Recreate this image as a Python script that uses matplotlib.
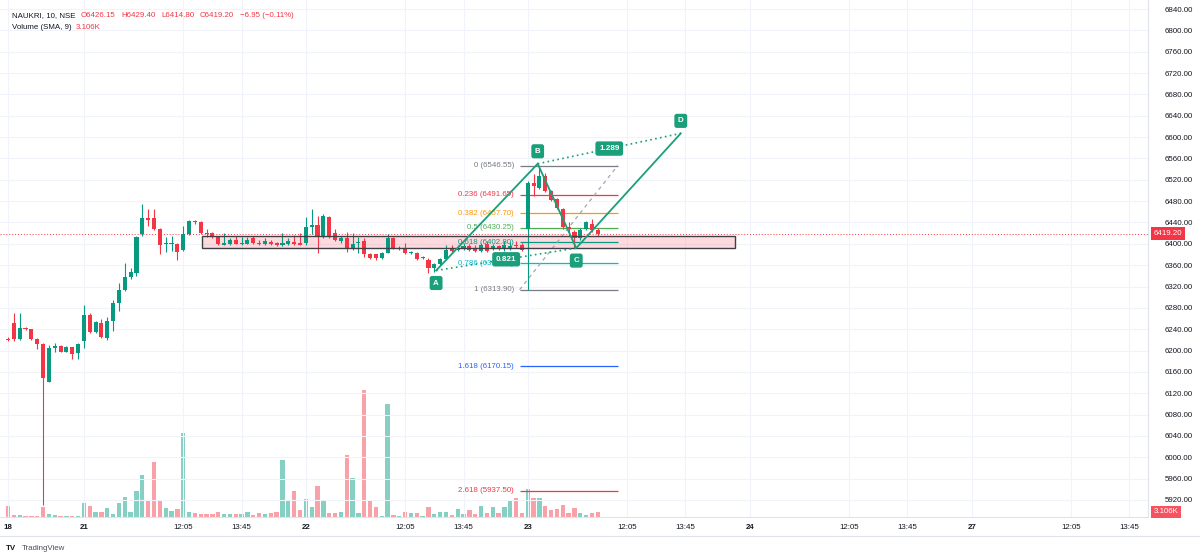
import matplotlib
matplotlib.use('Agg')
import matplotlib.pyplot as plt
from matplotlib.patches import Rectangle
from matplotlib.lines import Line2D
from matplotlib.offsetbox import TextArea, HPacker, AnchoredOffsetbox
import numpy as np

plt.rcParams['font.family'] = ['Liberation Sans', 'DejaVu Sans']

# ---------------- data ----------------
opens = [6222, 6251, 6221, 6243, 6240, 6221, 6213, 6142, 6204, 6208,
         6198, 6206, 6195, 6217, 6266, 6234, 6251, 6223, 6255, 6290,
         6314, 6337, 6346, 6419, 6449, 6449, 6428, 6400, 6400, 6400,
         6389, 6419, 6443, 6440, 6421, 6421, 6412, 6398, 6400, 6408,
         6400, 6400, 6410, 6402, 6400, 6404, 6402, 6398, 6400, 6404,
         6402, 6402, 6432, 6436, 6412, 6451, 6421, 6406, 6410, 6391,
         6402, 6406, 6380, 6380, 6374, 6383, 6410, 6391, 6391, 6382,
         6382, 6374, 6370, 6354, 6363, 6372, 6393, 6389, 6391, 6395,
         6393, 6387, 6400, 6391, 6395, 6391, 6393, 6398, 6398, 6428,
         6514, 6505, 6527, 6499, 6484, 6466, 6432, 6423, 6410, 6427,
         6438, 6426.15]
highs = [6225, 6270, 6271, 6245, 6241, 6223, 6214, 6210, 6215, 6210,
         6208, 6207, 6215, 6286, 6270, 6256, 6260, 6262, 6294, 6327,
         6365, 6355, 6415, 6475, 6466, 6466, 6430, 6413, 6415, 6402,
         6434, 6445, 6445, 6443, 6427, 6423, 6413, 6421, 6410, 6415,
         6412, 6412, 6415, 6408, 6410, 6408, 6404, 6421, 6410, 6417,
         6421, 6451, 6466, 6453, 6456, 6453, 6428, 6415, 6423, 6421,
         6412, 6410, 6382, 6381, 6385, 6419, 6413, 6395, 6402, 6387,
         6384, 6378, 6374, 6365, 6374, 6397, 6397, 6397, 6402, 6400,
         6397, 6402, 6406, 6400, 6398, 6406, 6404, 6406, 6402, 6518,
         6531, 6546.55, 6533, 6501, 6486, 6468, 6441, 6425, 6430, 6443,
         6447, 6429.40]
lows = [6217, 6217, 6219, 6238, 6219, 6202, 5911, 6141, 6198, 6197,
        6197, 6184, 6185, 6204, 6232, 6232, 6223, 6219, 6236, 6275,
        6312, 6335, 6339, 6415, 6434, 6425, 6380, 6385, 6387, 6369,
        6387, 6417, 6438, 6419, 6412, 6410, 6398, 6397, 6398, 6399,
        6398, 6399, 6400, 6398, 6398, 6398, 6396, 6396, 6398, 6398,
        6397, 6398, 6419, 6382, 6410, 6410, 6406, 6402, 6385, 6389,
        6382, 6376, 6372, 6369, 6372, 6382, 6391, 6389, 6380, 6380,
        6370, 6372, 6346, 6348, 6361, 6370, 6385, 6387, 6389, 6387,
        6385, 6385, 6385, 6389, 6389, 6387, 6389, 6393, 6387, 6313.90,
        6490, 6503, 6497, 6481, 6466, 6428, 6415, 6393, 6408, 6425,
        6423, 6414.80]
closes = [6219, 6221, 6243, 6240, 6221, 6213, 6148, 6204, 6208, 6198,
          6206, 6193, 6213, 6266, 6234, 6253, 6225, 6256, 6290, 6314,
          6337, 6348, 6413, 6449, 6445, 6427, 6397, 6402, 6402, 6385,
          6419, 6443, 6440, 6421, 6419, 6412, 6400, 6402, 6408, 6400,
          6402, 6408, 6402, 6400, 6406, 6400, 6398, 6402, 6406, 6400,
          6398, 6432, 6436, 6415, 6453, 6412, 6408, 6410, 6391, 6400,
          6404, 6380, 6374, 6374, 6383, 6410, 6393, 6393, 6382, 6384,
          6372, 6376, 6354, 6363, 6372, 6389, 6387, 6393, 6395, 6389,
          6387, 6397, 6387, 6395, 6391, 6397, 6395, 6395, 6389, 6514,
          6509, 6527, 6499, 6483, 6468, 6432, 6427, 6410, 6425, 6440,
          6425, 6419.20]
volumes_k = [6.8, 1.2, 1.2, 0.8, 0.8, 0.8, 6.2, 1.9, 1.2, 0.8,
             0.8, 0.8, 0.8, 8.7, 6.8, 3.1, 3.1, 5.6, 1.9, 8.7,
             12.4, 3.1, 16.1, 26.0, 10.5, 34.1, 10.5, 5.6, 3.7, 5.0,
             52.1, 3.1, 2.5, 1.9, 1.9, 1.9, 3.1, 1.9, 1.9, 1.9,
             1.9, 3.1, 1.2, 2.5, 1.9, 2.5, 3.1, 35.3, 9.9, 16.1,
             4.3, 11.2, 6.2, 19.2, 10.5, 2.5, 2.5, 3.1, 38.4, 24.2,
             2.5, 78.7, 9.9, 6.2, 0.8, 70.1, 1.2, 0.8, 3.1, 2.5,
             2.5, 0.8, 6.2, 1.9, 3.1, 3.1, 1.2, 5.0, 1.9, 4.3,
             1.9, 6.8, 2.5, 6.2, 2.5, 6.2, 9.9, 11.8, 2.5, 17.4,
             11.8, 11.8, 6.8, 4.3, 5.0, 7.4, 2.5, 5.6, 2.5, 1.2,
             2.5, 3.106]

# time axis: bar index of each session start
day_labels = ['18', '21', '22', '23', '24', '27']
day_start_bar = [0, 13, 51, 89, 127, 165]
intraday_labels = ['12:05', '13:45']
intraday_offset = [17, 27]
labelled_days = ['21', '22', '23', '24', '27']

price_ticks = list(range(5920, 6841, 40))
last_price = 6419.20
last_volume_label = '3.106K'
change_text = '\u22126.95 (\u22120.11%)'

fib_levels = ['0', '0.236', '0.382', '0.5', '0.618', '0.786', '1', '1.618', '2.618']
fib_prices = [6546.55, 6491.65, 6457.70, 6430.25, 6402.80, 6363.70, 6313.90, 6170.15, 5937.50]
fib_colors = ['#787B86', '#F23645', '#FF9800', '#4CAF50', '#089981', '#00BCD4',
              '#787B86', '#2962FF', '#F23645']
fib_bar_span = [87.6, 104.4]

abcd_names = ['A', 'B', 'C', 'D']
abcd_bar = [73.3, 90.7, 97.3, 115.2]
abcd_price = [6350, 6550, 6392, 6607]
abcd_ratios = ['0.821', '1.289']

zone_bar_span = [33.2, 124.5]
zone_price_span = [6392, 6415]

# ---------------- styling ----------------
GREEN = '#089981'
RED = '#F23645'
VOL_GREEN = '#86CFC3'
VOL_RED = '#F9A1A8'
TXT = '#131722'
GRID = '#F0F3FA'
ABCD = '#1B9E7A'
FS = 5.7

W, H = 1200, 560
fig = plt.figure(figsize=(W / 100, H / 100), dpi=100)
fig.patch.set_facecolor('white')
ax_left, ax_right, ax_top, ax_bottom = 0, 1148, 0, 517
ax = fig.add_axes([ax_left / W, 1 - ax_bottom / H, (ax_right - ax_left) / W, (ax_bottom - ax_top) / H])
ax2 = ax.twinx()
ax.set_zorder(ax2.get_zorder() + 1)
ax.patch.set_visible(False)

n = len(opens)
xs = np.arange(n)
o = np.array(opens, float)
c = np.array(closes, float)
up = c >= o
cols = np.where(up, GREEN, RED)

# volume (overlay)
ax2.bar(xs, volumes_k, width=0.74, color=np.where(up, VOL_GREEN, VOL_RED), linewidth=0)
ax2.set_ylim(0, 320.5)
ax2.set_yticks([])
for s in ax2.spines.values():
    s.set_visible(False)

# grid
ax.set_xlim(-1.37, 195.2)
ax.set_ylim(5888.1, 6856.9)
ax.grid(True, color=GRID, lw=0.8, zorder=0)
ax.set_axisbelow(True)

# zone rectangle
ax.add_patch(Rectangle((zone_bar_span[0], zone_price_span[0]),
                       zone_bar_span[1] - zone_bar_span[0],
                       zone_price_span[1] - zone_price_span[0],
                       facecolor=(0.949, 0.212, 0.271, 0.18), edgecolor='none', zorder=1))
ax.add_patch(Rectangle((zone_bar_span[0], zone_price_span[0]),
                       zone_bar_span[1] - zone_bar_span[0],
                       zone_price_span[1] - zone_price_span[0],
                       facecolor='none', edgecolor='#3F3F46', lw=1.0, zorder=4))

# candles
ax.vlines(xs, lows, highs, colors=cols, lw=0.8, zorder=3)
body_bottom = np.minimum(o, c)
body_h = np.maximum(np.abs(c - o), 1.4)
ax.bar(xs, body_h, bottom=body_bottom, width=0.7, color=cols, linewidth=0, zorder=3)

# last price line
ax.axhline(last_price, color=RED, ls=(0, (1, 2)), lw=0.7, zorder=2)

# fib retracement
ax.hlines(fib_prices, fib_bar_span[0], fib_bar_span[1], colors=fib_colors, lw=0.9, zorder=2)
for lvl, p, col in zip(fib_levels, fib_prices, fib_colors):
    ax.annotate(f"{lvl} ({p:.2f})", xy=(fib_bar_span[0], p), xytext=(-4, 0),
                textcoords='offset points', ha='right', va='center', color=col, fontsize=FS, zorder=2)
ax.plot(fib_bar_span, [fib_prices[6], fib_prices[0]], color='#A3A6AF', ls=(0, (3, 3)), lw=0.9, zorder=2)

# ABCD pattern
ax.plot(abcd_bar, abcd_price, color=ABCD, lw=1.3, zorder=5, solid_joinstyle='miter')
ax.plot([abcd_bar[0], abcd_bar[2]], [abcd_price[0], abcd_price[2]], color=ABCD, ls=(0, (1, 2)), lw=1.2, zorder=5)
ax.plot([abcd_bar[1], abcd_bar[3]], [abcd_price[1], abcd_price[3]], color=ABCD, ls=(0, (1, 2)), lw=1.2, zorder=5)
for nm, bx, py in zip(abcd_names, abcd_bar, abcd_price):
    dy = -9 if nm in ('A', 'C') else 9
    ax.annotate(nm, xy=(bx, py), xytext=(0, dy), textcoords='offset points', ha='center', va='center',
                color='white', fontsize=FS, fontweight='bold', zorder=6,
                bbox=dict(boxstyle='round,pad=0.45,rounding_size=0.3', fc=ABCD, ec='none'))
for k, (i0, i1) in enumerate([(0, 2), (1, 3)]):
    mx = (abcd_bar[i0] + abcd_bar[i1]) / 2
    my = (abcd_price[i0] + abcd_price[i1]) / 2
    ax.annotate(abcd_ratios[k], xy=(mx, my), ha='center', va='center', color='white', fontsize=5.9,
                fontweight='bold', zorder=6,
                bbox=dict(boxstyle='round,pad=0.45,rounding_size=0.3', fc=ABCD, ec='none'))

# axes ticks
ax.yaxis.tick_right()
ax.set_yticks(price_ticks)
ax.set_yticklabels([f"{p:.2f}" for p in price_ticks])
ax.tick_params(axis='y', length=0, pad=12, labelsize=FS, labelcolor=TXT)

xt, xl = [], []
for lbl, b in zip(day_labels, day_start_bar):
    xt.append(b); xl.append(lbl)
    if lbl in labelled_days:
        for tl, off in zip(intraday_labels, intraday_offset):
            xt.append(b + off); xl.append(tl)
order = np.argsort(xt)
xt = [xt[i] for i in order]; xl = [xl[i] for i in order]
ax.set_xticks(xt)
ax.set_xticklabels(xl)
ax.tick_params(axis='x', length=0, pad=5, labelsize=FS, labelcolor=TXT)
for t in ax.get_xticklabels():
    if t.get_text() in day_labels:
        t.set_fontweight('bold')

for s in ['top', 'left']:
    ax.spines[s].set_visible(False)
ax.spines['right'].set_color('#E0E3EB')
ax.spines['bottom'].set_color('#E0E3EB')
ax.spines['right'].set_linewidth(0.8)
ax.spines['bottom'].set_linewidth(0.8)

# axis value labels
ax.annotate(f"{last_price:.2f}", xy=(1, last_price), xycoords=('axes fraction', 'data'), xytext=(4, 0),
            textcoords='offset points', ha='left', va='center', color='white', fontsize=FS,
            bbox=dict(boxstyle='square,pad=0.35', fc=RED, ec='none'), annotation_clip=False, zorder=10)
ax2.annotate(last_volume_label, xy=(1, volumes_k[-1]), xycoords=('axes fraction', 'data'), xytext=(4, 0),
             textcoords='offset points', ha='left', va='center', color='white', fontsize=FS,
             bbox=dict(boxstyle='square,pad=0.35', fc='#F7525F', ec='none'), annotation_clip=False, zorder=10)

# legend / header
def header_row(parts, ypx, sep):
    boxes = [TextArea(s, textprops=dict(color=col, fontsize=FS)) for s, col in parts]
    pack = HPacker(children=boxes, align='baseline', pad=0, sep=sep)
    anc = AnchoredOffsetbox(loc='upper left', child=pack, pad=0, borderpad=0, frameon=False,
                            bbox_to_anchor=(12 / W, 1 - ypx / H), bbox_transform=fig.transFigure)
    fig.add_artist(anc)

header_row([('NAUKRI, 10, NSE', TXT),
            (f'O{opens[-1]:.2f}', RED), (f'H{highs[-1]:.2f}', RED),
            (f'L{lows[-1]:.2f}', RED), (f'C{closes[-1]:.2f}', RED),
            (change_text, RED)], 12, 4)
header_row([('Volume (SMA, 9)', TXT), (last_volume_label, RED)], 24, 3)

def ftext(px, py, s, **kw):
    fig.text(px / W, 1 - py / H, s, va='center', ha='left', fontsize=FS, **kw)

# bottom frame & logo
fig.add_artist(Line2D([0, 1], [1 - 536 / H, 1 - 536 / H], color='#E0E3EB', lw=0.8))
ftext(6, 548, 'TV', color=TXT, fontweight='bold')
ftext(22, 548, 'TradingView', color='#4A4E5A')

fig.savefig('out.png', dpi=100, facecolor='white')
